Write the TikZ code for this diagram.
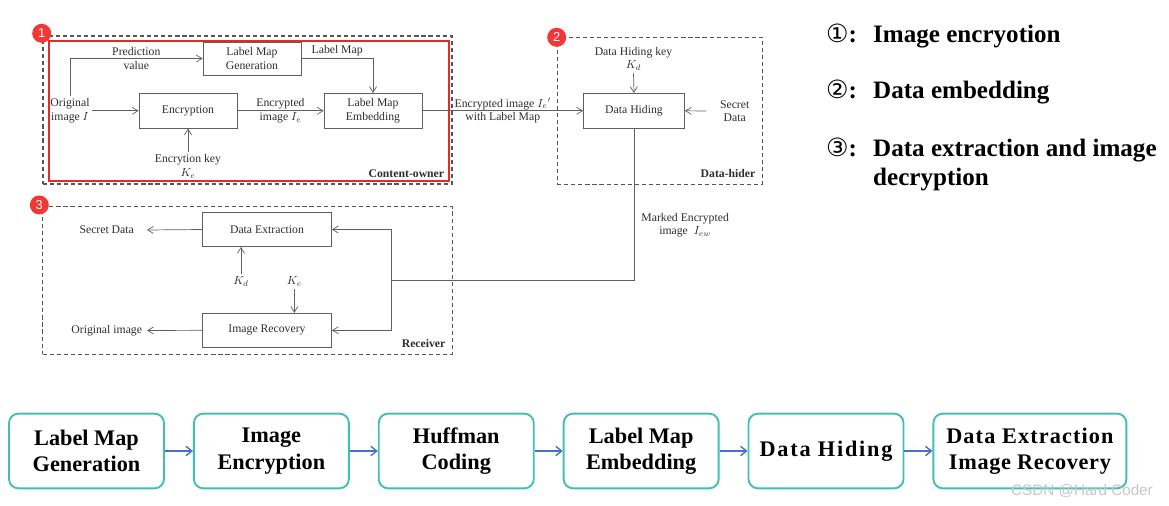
\documentclass[tikz,border=0pt]{standalone}
\usepackage{fontspec}
\setmainfont{Liberation Serif}
\newfontfamily\circfont{DejaVu Sans}
\newfontfamily\badgefont{Liberation Sans}
\usetikzlibrary{arrows.meta, positioning, fit}
\definecolor{schemeGray}{RGB}{95, 95, 95}
\definecolor{schemeText}{RGB}{45, 45, 45}
\definecolor{ownerRed}{RGB}{232, 40, 40}
\definecolor{badgeRed}{RGB}{240, 56, 52}
\definecolor{stageTeal}{RGB}{64, 192, 176}
\definecolor{stageBlue}{RGB}{72, 112, 200}

\begin{document}
\begin{tikzpicture}[
    x=0.03cm, y=-0.03cm,
    block/.style={
        rectangle,
        draw=schemeGray,
        line width=0.6pt,
        text=schemeText,
        font=\fontsize{10}{11.5}\selectfont,
        align=center,
        minimum width=2.94cm,
        minimum height=1.04cm
    },
    lbl/.style={text=schemeText, font=\fontsize{10}{11.5}\selectfont, align=center, inner sep=2pt},
    arr/.style={-{Straight Barb[length=5pt, width=6pt]}, schemeGray, line width=0.6pt},
    line/.style={schemeGray, line width=0.6pt},
    zone/.style={draw=schemeGray!90!black, dash pattern=on 3.5pt off 2.5pt, line width=1pt, inner sep=0pt},
    zonetitle/.style={font=\fontsize{10}{12}\selectfont\bfseries, text=schemeText, anchor=base east, inner sep=0pt},
    badge/.style={circle, fill=badgeRed, text=white, font=\badgefont\fontsize{11}{11}\selectfont, minimum size=0.57cm, inner sep=0pt},
    legend/.style={font=\fontsize{21.4}{24}\selectfont\bfseries, anchor=base west, inner sep=0pt},
    stage/.style={
        rectangle,
        draw=stageTeal,
        line width=1.6pt,
        rounded corners=8pt,
        minimum width=4.65cm,
        minimum height=2.24cm,
        align=center,
        font=\fontsize{19}{22.5}\selectfont\bfseries
    },
    flow/.style={-{Straight Barb[length=5pt, width=8pt]}, stageBlue, line width=1.2pt}
]
    \useasboundingbox (0,0) rectangle (1169,506);

    % Content-owner
    \node[block, minimum height=0.99cm] (lmg) at (252,58.5) {Label Map\\Generation};
    \node[block] (enc) at (188,110.8) {Encryption};
    \node[block] (lme) at (373,110.8) {Label Map\\Embedding};
    \node[lbl] (orig) at (70,110.8) {Original\\image $I$};
    \node[lbl] (ke1) at (188,166.5) {Encrytion key\\$K_e$};

    % Data-hider
    \node[block, minimum width=3.03cm] (dh) at (634,110.8) {Data Hiding};
    \node[lbl] (kd1) at (633.5,59) {Data Hiding key\\$K_d$};
    \node[lbl, minimum width=1.68cm] (sd1) at (734.7,111) {Secret\\Data};

    % Receiver
    \node[block, minimum width=3.87cm, minimum height=1.02cm] (dx) at (267,229.5) {Data Extraction};
    \node[block, minimum width=3.87cm, minimum height=1.02cm] (ir) at (267,330.3) {Image Recovery};
    \node[lbl, minimum width=2.4cm] (sd2) at (106.7,230) {Secret Data};
    \node[lbl, minimum width=2.4cm] (oimg) at (106.7,330.5) {Original image};
    \node[lbl] (kd2) at (241,281.7) {$K_d$};
    \node[lbl] (ke2) at (294.3,281.7) {$K_e$};
    \coordinate (split) at (391.7,280);

    % Frames
    \node[zone, fit={(43,36) (452,184)}] (owner) {};
    \node[zone, draw=ownerRed, solid, line width=1.6pt, fit={(49,41) (449,181)}] (core) {};
    \node[zone, fit={(557.3,37.3) (762.3,184.3)}] (hider) {};
    \node[zone, fit={(42.7,206.7) (452.3,354.3)}] (receiver) {};
    \node[zonetitle] at ([shift={(-7pt,5.8pt)}]owner.south east) {Content-owner};
    \node[zonetitle] at ([shift={(-6.2pt,6pt)}]hider.south east) {Data-hider};
    \node[zonetitle] at ([shift={(-6.2pt,6pt)}]receiver.south east) {Receiver};
    \node[badge] (b1) at (41.7,33.3) {1};
    \node[badge] (b2) at (556.7,37.3) {2};
    \node[badge] (b3) at (39.3,205) {3};

    % Connections
    \draw[arr] (orig.north) |- node[lbl, pos=0.75] {Prediction\\value} (lmg.west);
    \draw[arr] (orig.east) -- (enc.west);
    \draw[arr] (ke1.north) -- (enc.south);
    \draw[arr] (enc.east) -- node[lbl] {Encrypted\\image $I_e$} (lme.west);
    \draw[arr] (lmg.east) -| node[lbl, above, pos=0.25] {Label Map} (lme.north);
    \draw[arr] (lme.east) -- node[lbl] {Encrypted image $I_e{}'$\\with Label Map} (dh.west);
    \draw[arr] (kd1.south) -- (dh.north);
    \draw[arr] (sd1.west) -- (dh.east);
    \draw[line] (dh.south) |- node[lbl, anchor=west, pos=0.32, xshift=4pt] {Marked Encrypted\\image~ $I_{ew}$} (split);
    \foreach \target in {dx, ir} {
        \draw[arr] (split) |- (\target.east);
    }
    \draw[arr] (dx.west) -- (sd2.east);
    \draw[arr] (ir.west) -- (oimg.east);
    \draw[arr] (kd2.north) -- (kd2.north |- dx.south);
    \draw[arr] (ke2.south) -- (ke2.south |- ir.north);

    % Legend
    \node[legend] (n1) at (826,42.3) {{\circfont\mdseries ①}:};
    \node[legend] (t1) at (873,42.3) {Image encryotion};
    \node[legend] (n2) at (826,98.3) {{\circfont\mdseries ②}:};
    \node[legend] (t2) at (873,98.3) {Data embedding};
    \node[legend] (n3) at (826,156.7) {{\circfont\mdseries ③}:};
    \node[legend] (t3) at (873,156.7) {Data extraction and image};
    \node[legend] (t3b) at (873,185) {decryption};

    % Pipeline
    \node[stage] (s1) at (86.5,451) {Label Map\\Generation};
    \node[stage, right=0.84cm of s1] (s2) {Image\\Encryption};
    \node[stage, right=0.84cm of s2] (s3) {Huffman\\Coding};
    \node[stage, right=0.84cm of s3] (s4) {Label Map\\Embedding};
    \node[stage, right=0.84cm of s4] (s5) {\addfontfeature{LetterSpace=8}Data Hiding};
    \node[stage, right=0.84cm of s5, minimum width=5.79cm] (s6) {\addfontfeature{LetterSpace=5}Data Extraction\\\addfontfeature{LetterSpace=3}Image Recovery};
    \foreach \a/\b in {s1/s2, s2/s3, s3/s4, s4/s5, s5/s6} {
        \draw[flow] (\a) -- (\b);
    }
    \node[font=\badgefont\fontsize{13}{13}\selectfont, text=gray!45] (mark) at (1082,491) {CSDN @Hard Coder};

\end{tikzpicture}
\end{document}
